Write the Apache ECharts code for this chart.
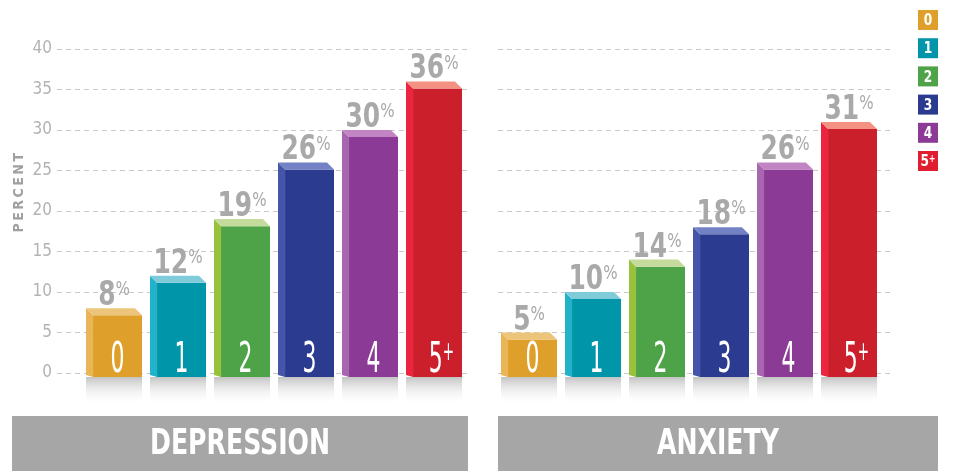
<!DOCTYPE html>
<html><head><meta charset="utf-8">
<script src="https://cdn.jsdelivr.net/npm/echarts@6/dist/echarts.min.js"></script>
<style>html,body{margin:0;padding:0;background:#fff}#c{width:953px;height:471px}</style>
</head><body><div id="c"></div>
<script>
const categories = ['0', '1', '2', '3', '4', '5+'];
const depression = [8, 12, 19, 26, 30, 36];
const anxiety = [5, 10, 14, 18, 26, 31];
const panelTitles = ['DEPRESSION', 'ANXIETY'];
const yAxisTitle = 'PERCENT';
const yMin = 0, yMax = 40, yStep = 5;

const FONT = "'Liberation Sans Narrow','Arial Narrow','DejaVu Sans Condensed',sans-serif";
const frontColors = ['#DEA02A', '#0095A9', '#4EA247', '#2B3C90', '#8B3A95', '#CB1F2B'];
const sideColors = ['#E9B556', '#22B3CB', '#98C13C', '#4455AA', '#A866B0', '#EC2440'];
const topColors = ['#EDC57A', '#7FCBDA', '#C5DB9C', '#7382C4', '#C285C3', '#F39282'];
const legendColors = ['#DEA02A', '#0095A9', '#4EA247', '#2B3C90', '#8B3A95', '#E01E30'];
const labelGray = '#a9a9a9';

function renderBar(params, api) {
  const i = api.value(0), v = api.value(1);
  const top = api.coord([i, v]);
  const base = api.coord([i, 0]);
  const band = api.size([1, 0])[0];
  const W = band * 0.875, d = band * 0.11;
  const cx = top[0];
  const x0 = cx - W / 2, x1 = x0 + d, x2 = cx + W / 2;
  const yB = top[1], yF = top[1] + d, yBot = base[1] + 4;
  const c = categories[i];
  const num = c.replace('+', '');
  const plus = c.indexOf('+') >= 0;
  return {
    type: 'group', children: [
      { type: 'rect', shape: { x: x0, y: yBot, width: W, height: 28 },
        style: { fill: { type: 'linear', x: 0, y: 0, x2: 0, y2: 1, colorStops: [
          { offset: 0, color: 'rgba(170,170,170,0.7)' }, { offset: 1, color: 'rgba(255,255,255,0)' }] } } },
      { type: 'polygon', shape: { points: [[x0, yB], [x1, yF], [x1, yBot], [x0, yBot - 2]] }, style: { fill: sideColors[i] } },
      { type: 'rect', shape: { x: x1, y: yF, width: x2 - x1, height: yBot - yF }, style: { fill: frontColors[i] } },
      { type: 'polygon', shape: { points: [[x0, yB], [x2 - d, yB], [x2, yF], [x1, yF]] }, style: { fill: topColors[i] } },
      { type: 'text', x: cx, y: yB + 5, scaleX: 0.84, style: {
          text: '{a|' + v + '}{b|%}', textAlign: 'center', textVerticalAlign: 'bottom',
          rich: {
            a: { fontSize: 33, fontWeight: 'bold', fontFamily: FONT, fill: labelGray },
            b: { fontSize: 20, fontFamily: FONT, fill: labelGray, verticalAlign: 'top' }
          } } },
      { type: 'text', x: (x1 + x2) / 2 + (plus ? 4 : 0), y: yBot + 5, scaleX: 0.58, style: {
          text: '{n|' + num + '}' + (plus ? '{p|+}' : ''), textAlign: 'center', textVerticalAlign: 'bottom',
          rich: {
            n: { fontSize: 42, fontFamily: FONT, fill: '#fff' },
            p: { fontSize: 26, fontFamily: FONT, fill: '#fff', verticalAlign: 'top' }
          } } }
    ]
  };
}

const gridTop = 49, gridH = 324;
const grids = [
  { left: 57, top: gridTop, width: 410, height: gridH },
  { left: 82, top: gridTop, width: 384, height: gridH },
  { left: 498, top: gridTop, width: 395, height: gridH },
  { left: 497, top: gridTop, width: 384, height: gridH }
];
const splitStyle = { show: true, lineStyle: { color: '#c9c9c9', type: [5, 4], width: 1 } };
const yAxes = grids.map((g, k) => ({
  type: 'value', gridIndex: k, min: yMin, max: yMax, interval: yStep,
  axisLine: { show: false }, axisTick: { show: false },
  axisLabel: { show: k === 0, color: '#b3b3b3', fontSize: 17, fontFamily: FONT, margin: 5 },
  splitLine: (k === 0 || k === 2) ? splitStyle : { show: false }
}));
const xAxes = grids.map((g, k) => ({
  type: 'category', gridIndex: k, data: categories, show: false, boundaryGap: true
}));

const legendGraphics = categories.map((c, i) => ({
  type: 'group', left: 918, top: 10 + i * 28.2, children: [
    { type: 'rect', shape: { x: 0, y: 0, width: 20, height: 20 }, style: { fill: legendColors[i] } },
    { type: 'text', x: 10, y: 11, scaleX: 0.85, style: {
        text: '{n|' + c.replace('+', '') + '}' + (c.indexOf('+') >= 0 ? '{p|+}' : ''),
        textAlign: 'center', textVerticalAlign: 'middle',
        rich: { n: { fontSize: 16, fontWeight: 'bold', fontFamily: FONT, fill: '#fff' },
                p: { fontSize: 10, fontWeight: 'bold', fontFamily: FONT, fill: '#fff', verticalAlign: 'top' } } } }
  ]
}));

const banners = [
  { x: 12, w: 456 },
  { x: 498, w: 440 }
].map((b, k) => ({
  type: 'group', left: b.x, top: 416, children: [
    { type: 'rect', shape: { x: 0, y: 0, width: b.w, height: 55 }, style: { fill: '#a6a6a6' } },
    { type: 'text', x: b.w / 2, y: 29, scaleX: 0.8, style: { text: panelTitles[k], textAlign: 'center', textVerticalAlign: 'middle',
        fontSize: 35, fontWeight: 'bold', fontFamily: FONT, fill: '#fff' } }
  ]
}));

const option = {
  animation: false,
  backgroundColor: '#fff',
  grid: grids,
  xAxis: xAxes,
  yAxis: yAxes,
  graphic: [
    ...banners,
    ...legendGraphics,
    { type: 'text', left: 12, top: 153, rotation: Math.PI / 2, style: {
        text: yAxisTitle.split('').join('\u2009'), fontSize: 14, fontWeight: 'bold', fontFamily: FONT, fill: '#a0a0a0' } }
  ],
  series: [
    { type: 'custom', xAxisIndex: 1, yAxisIndex: 1, renderItem: renderBar, clip: false,
      encode: { x: 0, y: 1 }, data: depression.map((v, i) => [i, v]) },
    { type: 'custom', xAxisIndex: 3, yAxisIndex: 3, renderItem: renderBar, clip: false,
      encode: { x: 0, y: 1 }, data: anxiety.map((v, i) => [i, v]) }
  ]
};
const chart = echarts.init(document.getElementById('c'), null, { renderer: 'canvas' });
chart.setOption(option);
</script></body></html>
